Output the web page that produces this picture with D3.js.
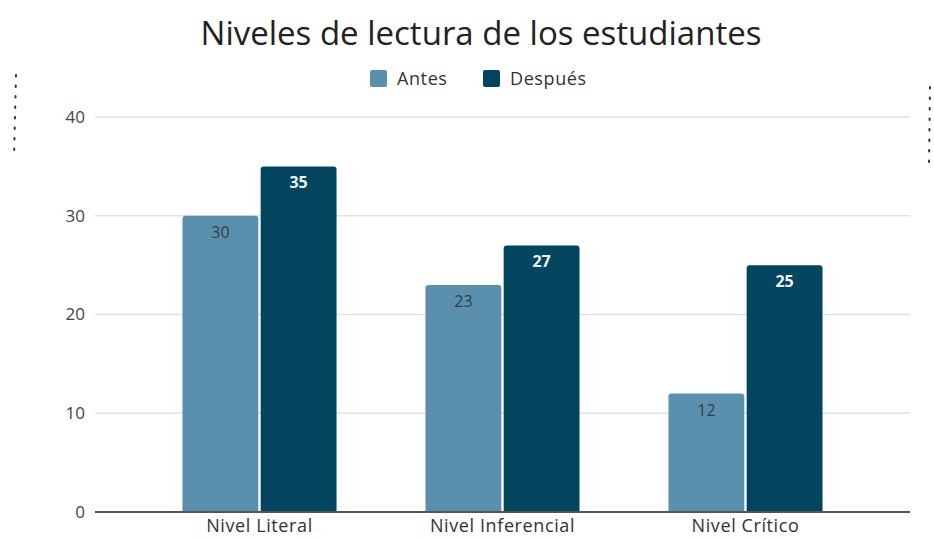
<!DOCTYPE html>
<html>
<head>
<meta charset="utf-8">
<script src="https://cdn.jsdelivr.net/npm/d3@7"></script>
<style>
  body { margin: 0; background: #fff; }
  svg text { font-family: 'Open Sans', sans-serif; }
</style>
</head>
<body>
<div id="chart"></div>
<script>
const categories = ['Nivel Literal', 'Nivel Inferencial', 'Nivel Crítico']
const seriesNames = ['Antes', 'Después']
const antes = [30, 23, 12]
const despues = [35, 27, 25]
const yTicks = [0, 10, 20, 30, 40]
const colors = ['#5b8fae', '#03445f']

const width = 934
const height = 538
const margin = { top: 117, right: 24, bottom: 26, left: 95 }

const svg = d3.select('#chart')
  .append('svg')
  .attr('width', width)
  .attr('height', height)

const y = d3.scaleLinear()
  .domain([0, 40])
  .range([height - margin.bottom, margin.top])

const x0 = d3.scaleBand()
  .domain(categories)
  .range([margin.left, width - margin.right])
  .paddingInner(0.366)
  .paddingOuter(0.36)

const x1 = d3.scaleBand()
  .domain(seriesNames)
  .range([0, x0.bandwidth()])
  .paddingInner(0.03)

// gridlines
svg.append('g')
  .selectAll('line')
  .data(yTicks.filter(d => d > 0))
  .join('line')
    .attr('x1', margin.left)
    .attr('x2', width - margin.right)
    .attr('y1', d => y(d))
    .attr('y2', d => y(d))
    .attr('stroke', '#e2e2e2')
    .attr('stroke-width', 1.5)

// y axis labels
svg.append('g')
  .selectAll('text')
  .data(yTicks)
  .join('text')
    .attr('x', 85)
    .attr('y', d => y(d))
    .attr('dy', '0.35em')
    .attr('text-anchor', 'end')
    .attr('font-size', 17)
    .attr('fill', '#444')
    .text(d => d)

const rows = categories.map((c, i) => ({ cat: c, values: [antes[i], despues[i]] }))

function topRounded(x, yTop, w, h, r) {
  return `M${x},${yTop + h}V${yTop + r}Q${x},${yTop} ${x + r},${yTop}` +
    `H${x + w - r}Q${x + w},${yTop} ${x + w},${yTop + r}V${yTop + h}Z`
}

const groups = svg.append('g')
  .selectAll('g')
  .data(rows)
  .join('g')
    .attr('transform', d => `translate(${x0(d.cat)},0)`)

const bars = groups.selectAll('g')
  .data(d => d.values.map((v, j) => ({ name: seriesNames[j], value: v, j })))
  .join('g')

bars.append('path')
  .attr('d', d => topRounded(x1(d.name), y(d.value), x1.bandwidth(), y(0) - y(d.value), 3))
  .attr('fill', d => colors[d.j])

bars.append('text')
  .attr('x', d => x1(d.name) + x1.bandwidth() / 2)
  .attr('y', d => y(d.value) + 22)
  .attr('text-anchor', 'middle')
  .attr('font-family', 'Roboto, sans-serif')
  .attr('font-size', 16)
  .attr('font-weight', d => d.j === 1 ? 'bold' : 'normal')
  .attr('fill', d => d.j === 1 ? '#eef3f6' : '#2f3f4a')
  .text(d => d.value)

// baseline
svg.append('line')
  .attr('x1', margin.left)
  .attr('x2', width - margin.right)
  .attr('y1', y(0))
  .attr('y2', y(0))
  .attr('stroke', '#555')
  .attr('stroke-width', 2)

// category labels
svg.append('g')
  .selectAll('text')
  .data(categories)
  .join('text')
    .attr('x', d => x0(d) + x0.bandwidth() / 2)
    .attr('y', 532)
    .attr('text-anchor', 'middle')
    .attr('font-size', 18)
    .attr('letter-spacing', 0.6)
    .attr('fill', '#333')
    .text(d => d)

// title
svg.append('text')
  .attr('x', 481)
  .attr('y', 45)
  .attr('text-anchor', 'middle')
  .attr('font-size', 33)
  .attr('fill', '#222')
  .text('Niveles de lectura de los estudiantes')

// legend
const legendX = [370, 483]
const legend = svg.append('g')
  .selectAll('g')
  .data(seriesNames)
  .join('g')
    .attr('transform', (d, i) => `translate(${legendX[i]},70)`)
legend.append('rect')
  .attr('width', 17)
  .attr('height', 17)
  .attr('rx', 2)
  .attr('fill', (d, i) => colors[i])
legend.append('text')
  .attr('x', 27)
  .attr('y', 9)
  .attr('dy', '0.35em')
  .attr('font-size', 18)
  .attr('letter-spacing', 0.6)
  .attr('fill', '#333')
  .text(d => d)

// dotted selection handles at the edges
svg.append('line')
  .attr('x1', 16).attr('y1', 75).attr('x2', 14).attr('y2', 158)
  .attr('stroke', '#333').attr('stroke-width', 2)
  .attr('stroke-dasharray', '1.5,9').attr('stroke-linecap', 'round')
svg.append('line')
  .attr('x1', 930).attr('y1', 87).attr('x2', 929).attr('y2', 165)
  .attr('stroke', '#333').attr('stroke-width', 2)
  .attr('stroke-dasharray', '1.5,9').attr('stroke-linecap', 'round')
</script>
</body>
</html>
